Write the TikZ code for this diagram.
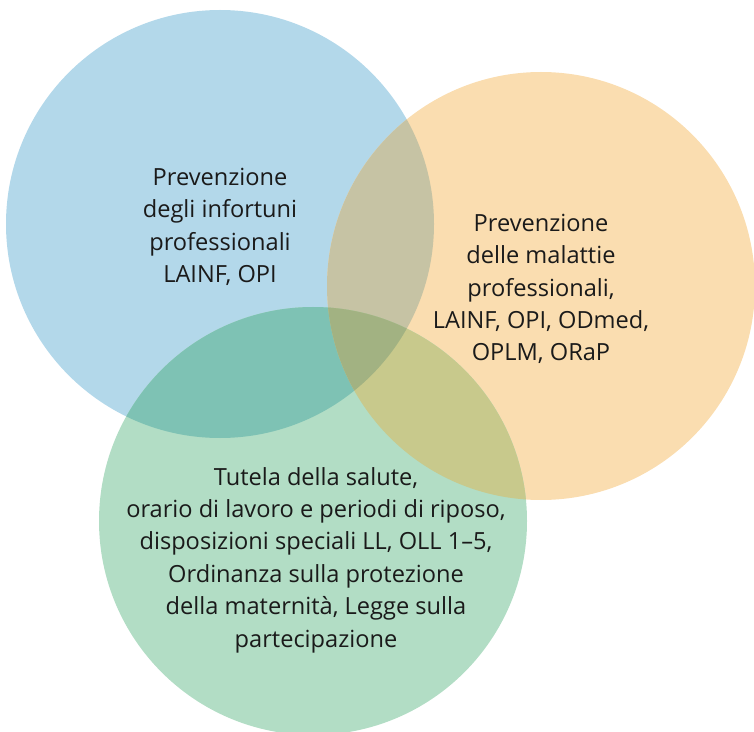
\documentclass[tikz,border=0pt]{standalone}
\usepackage{fontspec}
\setmainfont{Open Sans}
\usepackage{tikz}

\definecolor{vennblue}{HTML}{B3D8EA}
\definecolor{vennorange}{HTML}{FADDB0}
\definecolor{venngreen}{HTML}{B2DDC5}
\definecolor{vennbo}{HTML}{C6C3A4}
\definecolor{vennbg}{HTML}{7EC2B4}
\definecolor{venngo}{HTML}{C8C98C}
\definecolor{venntri}{HTML}{A2B282}
\definecolor{inktext}{HTML}{1A1A1A}

\tikzset{
	venntext/.style={align=center, text=inktext, font=\fontsize{11.8}{16.2}\selectfont}
}

\begin{document}
\begin{tikzpicture}[x=0.5pt,y=-0.5pt]
				\useasboundingbox (0,0) rectangle (754,732);
				\clip (0,0) rectangle (754,732);
				\coordinate (cb) at (220,224);
				\coordinate (co) at (541,286);
				\coordinate (cg) at (313,521);
				% the three circles
				\fill[vennblue] (cb) circle (107pt);
				\fill[vennorange] (co) circle (107pt);
				\fill[venngreen] (cg) circle (107pt);
				% overlaps
				\begin{scope}
					\clip (cb) circle (107pt);
					\fill[vennbo] (co) circle (107pt);
				\end{scope}
				\begin{scope}
					\clip (cb) circle (107pt);
					\fill[vennbg] (cg) circle (107pt);
				\end{scope}
				\begin{scope}
					\clip (co) circle (107pt);
					\fill[venngo] (cg) circle (107pt);
				\end{scope}
				\begin{scope}
					\clip (cb) circle (107pt);
					\clip (co) circle (107pt);
					\fill[venntri] (cg) circle (107pt);
				\end{scope}
				% labels
				\node[venntext] (infortuni) at (220,227) {Prevenzione\\degli infortuni\\professionali\\LAINF, OPI};
				\node[venntext] (malattie) at (541,289) {Prevenzione\\delle malattie\\professionali,\\LAINF, OPI, ODmed,\\OPLM, ORaP};
				\node[venntext] (salute) at (316,560) {Tutela della salute,\\orario di lavoro e periodi di riposo,\\disposizioni speciali LL, OLL 1--5,\\Ordinanza sulla protezione\\della maternità, Legge sulla\\partecipazione};
			\end{tikzpicture}
\end{document}
